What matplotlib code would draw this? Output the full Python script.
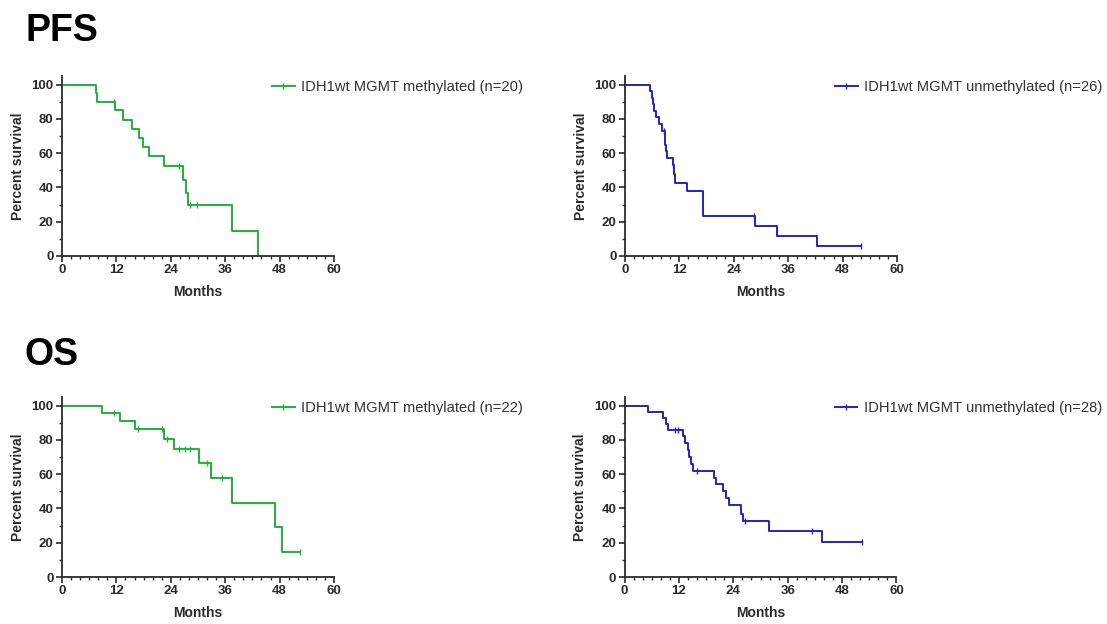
import numpy as np
import matplotlib
matplotlib.use('Agg')
import matplotlib.pyplot as plt
from matplotlib.ticker import MultipleLocator
from matplotlib.lines import Line2D

plt.rcParams['font.family'] = ['Liberation Sans', 'DejaVu Sans']

# PFS, IDH1wt MGMT methylated (n=20)
pfs_m_t = [7.4, 7.8, 11.7, 13.5, 15.5, 16.9, 17.9, 19.1, 22.6, 26.7, 27.3, 27.8, 37.6, 43.2]
pfs_m_s = [95, 90, 85, 79.4, 74.1, 68.8, 63.5, 58.2, 52.4, 44.2, 36.8, 29.6, 14.8, 0]
pfs_m_ct = [11.4, 25.7, 28.3, 29.7]
pfs_m_cs = [90, 52.4, 29.6, 29.6]
pfs_m_end = 43.2

# PFS, IDH1wt MGMT unmethylated (n=26)
pfs_u_t = [5.5, 5.9, 6.2, 6.5, 6.9, 7.5, 8.1, 8.8, 8.9, 9.0, 9.2, 10.5, 10.8, 11.1, 13.6, 17.3, 28.6, 33.5, 42.4]
pfs_u_s = [96.2, 92.3, 88.5, 84.6, 80.8, 76.9, 73.1, 69, 65, 61, 57, 52.8, 48, 42.8, 38, 23.5, 17.6, 11.8, 5.9]
pfs_u_ct = [8.6, 10.6, 28.4, 52.1]
pfs_u_cs = [73.1, 52.8, 23.5, 5.9]
pfs_u_end = 52.1

# OS, IDH1wt MGMT methylated (n=22)
os_m_t = [8.9, 12.9, 16.1, 22.4, 24.6, 30.3, 32.9, 37.6, 46.9, 48.6]
os_m_s = [95.5, 90.9, 86.4, 80.3, 74.5, 66.3, 57.9, 42.9, 28.9, 14.4]
os_m_ct = [11.4, 16.8, 22.0, 23.2, 25.7, 27.2, 28.3, 32.0, 35.3, 52.6]
os_m_cs = [95.5, 86.4, 86.4, 80.3, 74.5, 74.5, 74.5, 66.3, 57.9, 14.4]
os_m_end = 52.6

# OS, IDH1wt MGMT unmethylated (n=28)
os_u_t = [5.1, 8.4, 9.1, 9.7, 12.8, 13.4, 13.9, 14.3, 14.6, 15.2, 19.8, 20.1, 21.8, 22.4, 23.1, 25.8, 26.1, 31.9, 43.6]
os_u_s = [96.4, 92.9, 89.3, 85.7, 82, 78, 74, 70, 66, 62, 58, 54, 50, 46, 42, 37, 32.5, 27, 20.3]
os_u_ct = [11.2, 11.9, 15.9, 26.6, 41.4, 52.3]
os_u_cs = [85.7, 85.7, 62, 32.5, 27, 20.3]
os_u_end = 52.3

green = '#1fb23a'
blue = '#2323c4'
grey = '#2b2b2b'

panels = [
    (pfs_m_t, pfs_m_s, pfs_m_ct, pfs_m_cs, pfs_m_end, green, 'IDH1wt MGMT methylated (n=20)', 62, 256),
    (pfs_u_t, pfs_u_s, pfs_u_ct, pfs_u_cs, pfs_u_end, blue, 'IDH1wt MGMT unmethylated (n=26)', 625, 256),
    (os_m_t, os_m_s, os_m_ct, os_m_cs, os_m_end, green, 'IDH1wt MGMT methylated (n=22)', 62, 577),
    (os_u_t, os_u_s, os_u_ct, os_u_cs, os_u_end, blue, 'IDH1wt MGMT unmethylated (n=28)', 624.5, 577),
]

W, H = 1107, 624
fig = plt.figure(figsize=(W / 100, H / 100), dpi=100)

for t, s, ct, cs, end, col, lab, x0, y0 in panels:
    ax = fig.add_axes([x0 / W, 1 - y0 / H, 272 / W, 180 / H])
    xs = [0] + t + [end]
    ys = [100] + s + [s[-1]]
    ax.step(xs, ys, where='post', color=col, lw=1.4)
    ax.plot(ct, cs, ls='none', marker='|', ms=5, mew=1.0, color=col)
    ax.set_xlim(0, 60)
    ax.set_ylim(0, 105)
    ax.set_xticks(np.arange(0, 61, 12))
    ax.set_yticks(np.arange(0, 101, 20))
    ax.xaxis.set_minor_locator(MultipleLocator(2))
    ax.yaxis.set_minor_locator(MultipleLocator(10))
    for sp in ['top', 'right']:
        ax.spines[sp].set_visible(False)
    for sp in ['left', 'bottom']:
        ax.spines[sp].set_linewidth(1.3)
        ax.spines[sp].set_color(grey)
    ax.tick_params(which='major', length=4, width=1.2, color=grey, labelsize=9.5,
                   labelcolor=grey, pad=2)
    ax.tick_params(which='minor', length=2.5, width=1.0, color=grey)
    for lb in ax.get_xticklabels() + ax.get_yticklabels():
        lb.set_fontweight('bold')
    ax.set_xlabel('Months', fontsize=10, fontweight='bold', color=grey, labelpad=6)
    ax.set_ylabel('Percent survival', fontsize=10, fontweight='bold', color=grey, labelpad=5)
    ax.patch.set_alpha(0)
    h = Line2D([0], [0], color=col, lw=1.4, marker='|', ms=5, mew=1.0)
    lx = (x0 + 210) / W
    ly = 1 - (y0 - 169) / H
    ax.legend([h], [lab], loc='center left', bbox_to_anchor=(lx, ly),
              bbox_transform=fig.transFigure, frameon=False, fontsize=10.6,
              borderpad=0, borderaxespad=0, handlelength=1.55, handletextpad=0.45,
              labelcolor='#333333')

fig.text(25 / W, 1 - 13 / H, 'PFS', fontsize=27, fontweight='bold', va='top', ha='left')
fig.text(25 / W, 1 - 337 / H, 'OS', fontsize=27, fontweight='bold', va='top', ha='left')

fig.savefig('out.png', dpi=100)
